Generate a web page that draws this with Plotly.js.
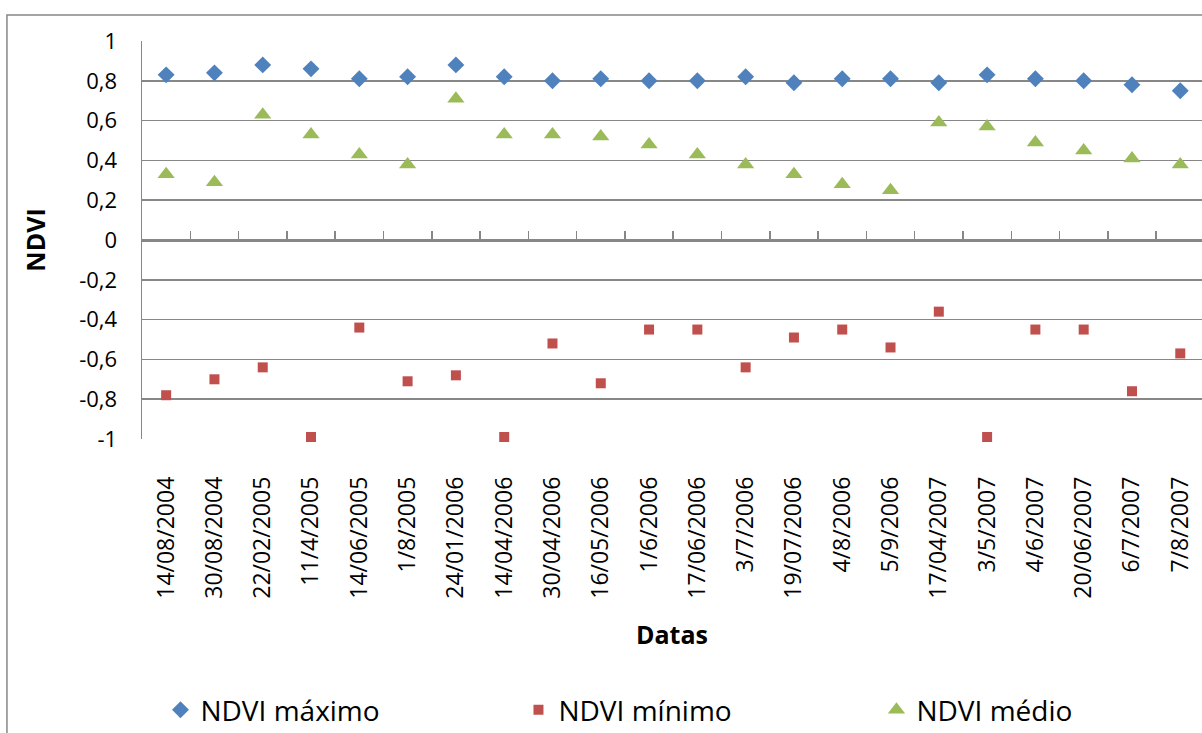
<!DOCTYPE html>
<html>
<head>
<meta charset="utf-8">
<script src="https://cdn.plot.ly/plotly-3.0.1.min.js"></script>
<style>html,body{margin:0;padding:0;background:#fff;}#chart{width:1202px;height:733px;}</style>
</head>
<body>
<div id="chart"></div>
<script>
const dates = ["14/08/2004","30/08/2004","22/02/2005","11/4/2005","14/06/2005","1/8/2005","24/01/2006","14/04/2006","30/04/2006","16/05/2006","1/6/2006","17/06/2006","3/7/2006","19/07/2006","4/8/2006","5/9/2006","17/04/2007","3/5/2007","4/6/2007","20/06/2007","6/7/2007","7/8/2007"];
const ndviMax = [0.83,0.84,0.88,0.86,0.81,0.82,0.88,0.82,0.80,0.81,0.80,0.80,0.82,0.79,0.81,0.81,0.79,0.83,0.81,0.80,0.78,0.75];
const ndviMin = [-0.78,-0.70,-0.64,-0.99,-0.44,-0.71,-0.68,-0.99,-0.52,-0.72,-0.45,-0.45,-0.64,-0.49,-0.45,-0.54,-0.36,-0.99,-0.45,-0.45,-0.76,-0.57];
const ndviMed = [0.33,0.29,0.63,0.53,0.43,0.38,0.71,0.53,0.53,0.52,0.48,0.43,0.38,0.33,0.28,0.25,0.59,0.57,0.49,0.45,0.41,0.38];
const seriesNames = ["NDVI máximo","NDVI mínimo","NDVI médio"];
const yTickVals = [1,0.8,0.6,0.4,0.2,0,-0.2,-0.4,-0.6,-0.8,-1];
const yTickText = ["1","0,8","0,6","0,4","0,2","0","-0,2","-0,4","-0,6","-0,8","-1"];

const FONT = "Open Sans, Liberation Sans, sans-serif";
const GRID = "#878787";

const traces = [
  {x: dates, y: ndviMax, name: seriesNames[0], type: "scatter", mode: "markers", cliponaxis: false,
   marker: {symbol: "diamond", size: 13, color: "#4F81BD"}},
  {x: dates, y: ndviMin, name: seriesNames[1], type: "scatter", mode: "markers", cliponaxis: false,
   marker: {symbol: "square", size: 10, color: "#C0504D"}},
  {x: dates, y: ndviMed, name: seriesNames[2], type: "scatter", mode: "markers", cliponaxis: false,
   marker: {symbol: "triangle-up", size: 15, color: "#9BBB59"}}
];

const layout = {
  width: 1202, height: 733,
  margin: {l: 142, r: 0, t: 41, b: 294, autoexpand: false},
  paper_bgcolor: "#ffffff", plot_bgcolor: "#ffffff",
  font: {family: FONT, color: "#000", size: 22},
  separators: ", ",
  showlegend: true,
  xaxis: {
    type: "category", categoryorder: "array", categoryarray: dates,
    range: [-0.5, 21.45],
    anchor: "free", position: 0.5,
    showline: true, linecolor: GRID, linewidth: 1.5,
    showgrid: false, zeroline: false,
    ticks: "inside", tickson: "boundaries", ticklen: 9, tickcolor: GRID, tickwidth: 1.5,
    tickangle: -90, ticklabelstandoff: 226,
    tickfont: {family: FONT, size: 23, color: "#000"},
    automargin: false,
    title: {text: "Datas", font: {family: FONT, size: 25, color: "#000", weight: "bold"}, standoff: 28}
  },
  yaxis: {
    range: [-1, 1], domain: [0, 1],
    tickvals: yTickVals, ticktext: yTickText,
    showgrid: true, gridcolor: GRID, gridwidth: 1.5,
    showline: true, linecolor: GRID, linewidth: 1.5,
    zeroline: false, ticks: "", ticklabelstandoff: 19,
    tickfont: {family: FONT, size: 22, color: "#000"},
    automargin: false,
    title: {text: "NDVI", font: {family: FONT, size: 25, color: "#000", weight: "bold"}, standoff: 26}
  },
  legend: {
    orientation: "h", x: -0.0005, xanchor: "left", y: -0.681, yanchor: "middle",
    indentation: 19,
    entrywidth: 294, entrywidthmode: "pixels",
    font: {family: FONT, size: 28, color: "#000"},
    bgcolor: "rgba(0,0,0,0)"
  },
  shapes: [
    {type: "rect", xref: "paper", yref: "paper", x0: -0.1274, x1: 1.2, y0: -1.0, y1: 1.0653,
     line: {color: GRID, width: 1.5}, fillcolor: "rgba(0,0,0,0)", layer: "below"}
  ]
};

Plotly.newPlot("chart", traces, layout, {displayModeBar: false, staticPlot: true});
</script>
</body>
</html>
